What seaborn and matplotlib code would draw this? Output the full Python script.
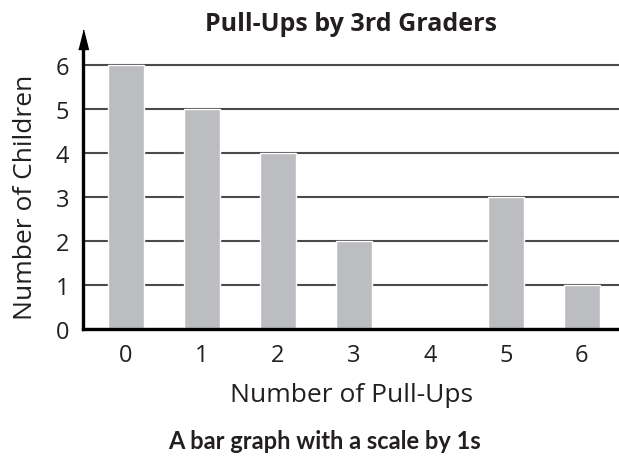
import matplotlib
matplotlib.use('Agg')
import matplotlib.pyplot as plt
import seaborn as sns
import pandas as pd

# chart data
pull_ups = ["0", "1", "2", "3", "4", "5", "6"]
children = [6, 5, 4, 2, 0, 3, 1]
y_ticks = [0, 1, 2, 3, 4, 5, 6]

sns.set_style("white")
plt.rcParams['font.family'] = ['Open Sans', 'DejaVu Sans']

df = pd.DataFrame({"Pull-Ups": pull_ups, "Children": children})

fig = plt.figure(figsize=(6.19, 4.60), dpi=100)
ax = fig.add_axes([83 / 619, 1 - 330 / 460, 1 - 83 / 619, 280 / 460])

sns.barplot(data=df, x="Pull-Ups", y="Children", order=pull_ups,
            color="#bcbdc0", saturation=1, width=0.47, ax=ax)

ax.set_xlim(-0.566, 6.49)
ax.set_ylim(0, 280 / 44)
ax.set_yticks(y_ticks)
ax.set_axisbelow(True)
ax.yaxis.grid(True, color="#4a4a4a", lw=1.5)
ax.xaxis.grid(False)

for side in ["top", "right"]:
    ax.spines[side].set_visible(False)
for side in ["left", "bottom"]:
    ax.spines[side].set_color("black")
    ax.spines[side].set_linewidth(2.4)

ax.tick_params(axis="both", length=0, labelsize=17, colors="#231f20")
ax.tick_params(axis="x", pad=10)
ax.tick_params(axis="y", pad=10)

ax.set_xlabel("Number of Pull-Ups", fontsize=19, color="#231f20", labelpad=11)
ax.set_ylabel("Number of Children", fontsize=19, color="#231f20")
ax.yaxis.set_label_coords(-0.084, 0.475)
ax.set_title("Pull-Ups by 3rd Graders", fontsize=18, fontweight="bold",
             color="#231f20", pad=14)

# arrow head on top of the y axis
arrow = [(-0.5, 0), (0.5, 0), (0, 2)]
ax.plot([0], [1], marker=arrow, markersize=28, color="black",
        transform=ax.transAxes, clip_on=False)

fig.text(324 / 619, 1 - 442 / 460, "A bar graph with a scale by 1s",
         ha="center", va="center", fontsize=17, fontweight="bold",
         color="#231f20", family=['Lato', 'DejaVu Sans'])

fig.savefig("out.png", dpi=100)
